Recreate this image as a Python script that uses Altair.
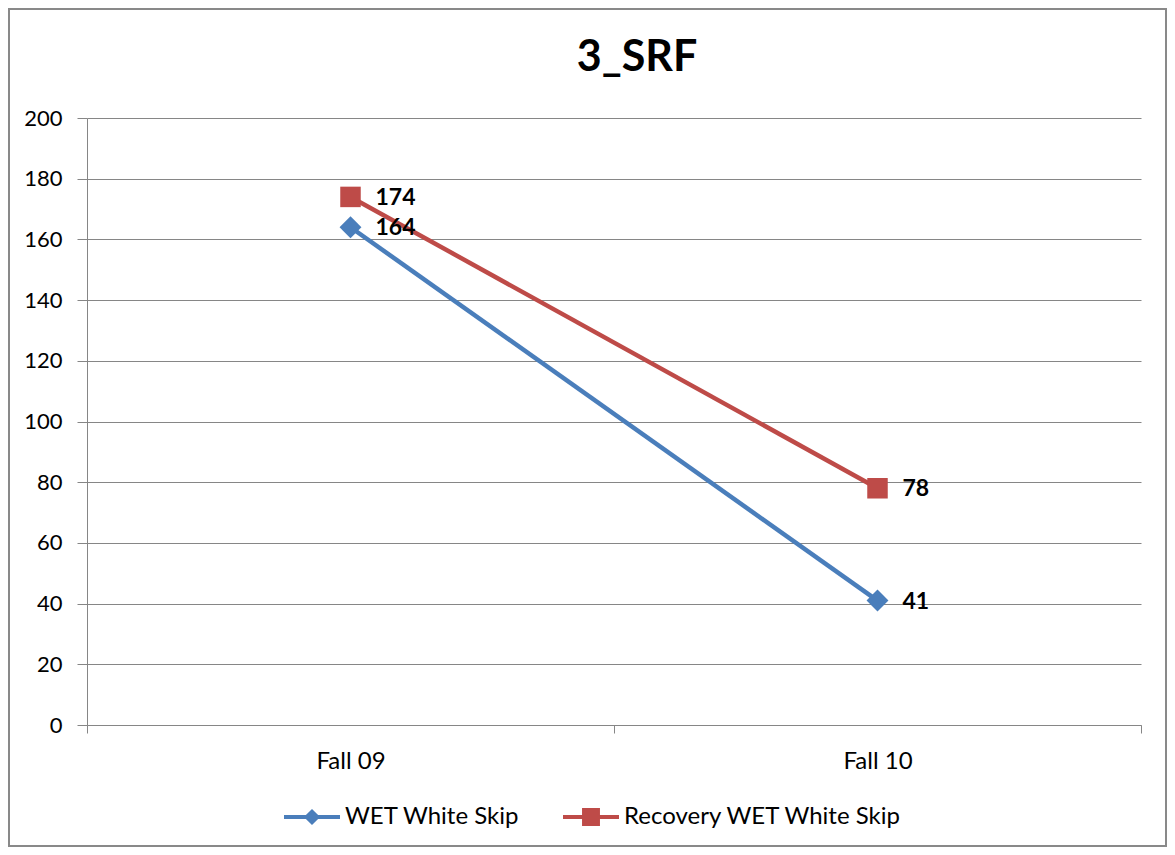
import altair as alt
import pandas as pd

categories = ["Fall 09", "Fall 10"]
series_names = ["WET White Skip", "Recovery WET White Skip"]
wet_white_skip = [164, 41]
recovery_wet_white_skip = [174, 78]
y_ticks = [0, 20, 40, 60, 80, 100, 120, 140, 160, 180, 200]
series_colors = ["#4A7EBB", "#BE4B48"]
chart_title = "3_SRF"

rows = []
for name, vals in zip(series_names, [wet_white_skip, recovery_wet_white_skip]):
    for c, v in zip(categories, vals):
        rows.append({"period": c, "series": name, "value": v})
df = pd.DataFrame(rows)
one = pd.DataFrame({"k": [0]})

W, H = 1054, 607
PL, PT, PR, PB = 79, 110, 26, 122
GRID = "#868686"
FONT = "Lato"

x_enc = alt.X(
    "period:N", sort=categories,
    scale=alt.Scale(type="band", domain=categories, paddingInner=0, paddingOuter=0),
    axis=alt.Axis(title=None, labelAngle=0, tickBand="extent", grid=False,
                  domainColor=GRID, tickColor=GRID, tickSize=8,
                  labelFont=FONT, labelFontSize=24, labelColor="#000000",
                  labelPadding=16),
)
y_enc = alt.Y(
    "value:Q", scale=alt.Scale(domain=[0, 200], nice=False, zero=True),
    axis=alt.Axis(title=None, values=y_ticks, grid=True, gridColor=GRID,
                  domainColor=GRID, tickColor=GRID, tickSize=10,
                  labelFont=FONT, labelFontSize=22, labelColor="#000000",
                  labelPadding=15),
)
color_scale = alt.Scale(domain=series_names, range=series_colors)

base = alt.Chart(df)

def series_layers(i, shape, size):
    sub = base.transform_filter(alt.datum.series == series_names[i])
    ln = sub.mark_line(strokeWidth=4.5, color=series_colors[i]).encode(x=x_enc, y=y_enc)
    pt = sub.mark_point(shape=shape, filled=True, opacity=1, size=size,
                        color=series_colors[i]).encode(x=x_enc, y=y_enc)
    return ln, pt

ln_d, pts_d = series_layers(0, "diamond", 480)
ln_s, pts_s = series_layers(1, "square", 420)

labels = base.mark_text(
    align="left", baseline="middle", dx=25, dy=1, font=FONT, fontSize=23,
    fontWeight="bold", color="#000000"
).encode(x=x_enc, y=y_enc, text="value:Q")

path_d = "M-1,-0.07L1,-0.07L1,0.07L-1,0.07Z M0,-0.29L0.29,0L0,0.29L-0.29,0Z"
path_s = "M-1,-0.07L1,-0.07L1,0.07L-1,0.07Z M-0.32,-0.32L0.32,-0.32L0.32,0.32L-0.32,0.32Z"

leg = alt.Legend(
    title=None, orient="none", legendX=197, legendY=671, direction="horizontal",
    symbolSize=3136, symbolOpacity=1, symbolStrokeWidth=0,
    labelFont=FONT, labelFontSize=24, labelColor="#000000", labelLimit=500,
    labelOffset=5, columnPadding=43, padding=0,
)
legend_src = base.mark_point(filled=True, opacity=0).encode(
    x=x_enc, y=y_enc,
    color=alt.Color("series:N", scale=color_scale, sort=series_names, legend=leg),
    shape=alt.Shape("series:N", sort=series_names,
                    scale=alt.Scale(domain=series_names, range=[path_d, path_s]),
                    legend=leg),
)

title = alt.Chart(one).mark_text(
    text=chart_title, align="center", baseline="alphabetic", font=FONT,
    fontSize=43, fontWeight="bold", color="#000000"
).encode(x=alt.value(550), y=alt.value(-47))

border = alt.Chart(one).mark_rect(
    fillOpacity=0, stroke="#898989", strokeWidth=2
).encode(x=alt.value(-PL + 1), x2=alt.value(W + PR - 1),
         y=alt.value(-PT + 1), y2=alt.value(H + PB - 1))

chart = alt.layer(ln_d, ln_s, pts_d, pts_s, labels, legend_src, title, border).properties(
    width=W, height=H,
    autosize=alt.AutoSizeParams(type="none"),
    padding={"left": PL, "top": PT, "right": PR, "bottom": PB},
).configure_view(stroke=None)

chart.save("out.html", embed_options={"renderer": "svg", "actions": False})
